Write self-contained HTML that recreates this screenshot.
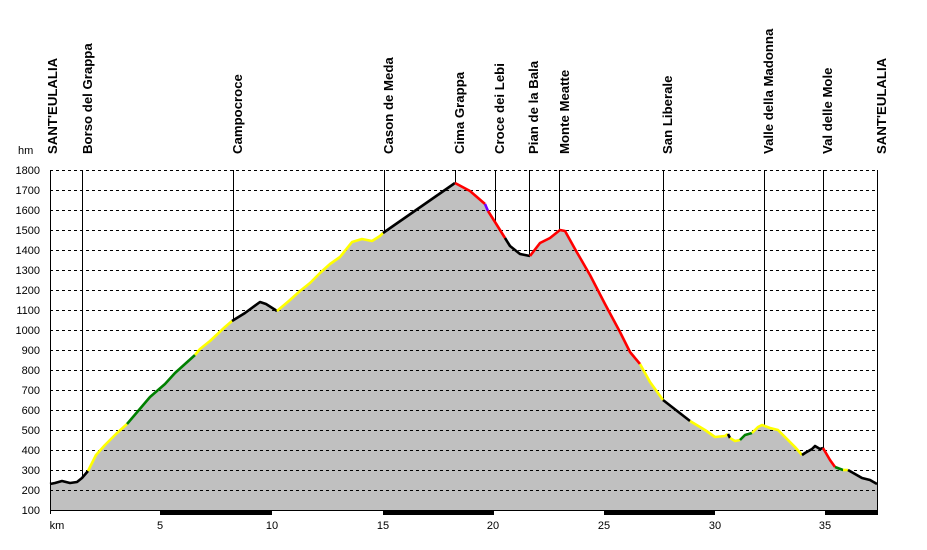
<!DOCTYPE html>
<html><head><meta charset="utf-8"><style>body{margin:0;background:#fff}svg{display:block}</style></head><body>
<svg width="927" height="550" xmlns="http://www.w3.org/2000/svg" font-family="Liberation Sans, Arial, sans-serif">
<polygon fill="#c0c0c0" points="50,484 55,483 62,481 70,483 77,482 82,478 88,471 96,455 105,445 116,434 127,424 150,397 165,384 175,373 195,355 200,349 210,341 225,327 232,321 245,313 260,302 266,304 277,311 290,300 300,291 310,283 320,273 330,264 340,257 352,242 362,239 372,241 380,236 383,233 455,183 470,191 485,204 488,211 495,222 505,238 510,246 520,254 530,256 540,243 550,238 560,230 565,231 575,249 590,275 605,304 620,332 630,352 640,364 650,382 663,400 690,421 705,430 715,437 725,436 728,434 730,438 735,441 740,440 745,435 752,433 758,427 762,425 770,428 778,430 785,437 795,447 802,455 805,453 812,449 815,446 820,449 823,448 830,460 835,467 843,470 848,470 855,474 862,478 870,480 877,484 877,510 50,510"/>
<g stroke="#000" stroke-dasharray="3,3" stroke-width="1">
<line x1="50" x2="877" y1="170.5" y2="170.5"/><line x1="50" x2="877" y1="190.5" y2="190.5"/><line x1="50" x2="877" y1="210.5" y2="210.5"/><line x1="50" x2="877" y1="230.5" y2="230.5"/><line x1="50" x2="877" y1="250.5" y2="250.5"/><line x1="50" x2="877" y1="270.5" y2="270.5"/><line x1="50" x2="877" y1="290.5" y2="290.5"/><line x1="50" x2="877" y1="310.5" y2="310.5"/><line x1="50" x2="877" y1="330.5" y2="330.5"/><line x1="50" x2="877" y1="350.5" y2="350.5"/><line x1="50" x2="877" y1="370.5" y2="370.5"/><line x1="50" x2="877" y1="390.5" y2="390.5"/><line x1="50" x2="877" y1="410.5" y2="410.5"/><line x1="50" x2="877" y1="430.5" y2="430.5"/><line x1="50" x2="877" y1="450.5" y2="450.5"/><line x1="50" x2="877" y1="470.5" y2="470.5"/><line x1="50" x2="877" y1="490.5" y2="490.5"/>
</g>
<g stroke="#000" stroke-width="1">
<line x1="50.5" y1="170" x2="50.5" y2="514"/><line x1="877.5" y1="170" x2="877.5" y2="514"/>
<line x1="82.5" y1="170" x2="82.5" y2="478"/><line x1="233.5" y1="170" x2="233.5" y2="321"/><line x1="384.5" y1="170" x2="384.5" y2="233"/><line x1="455.5" y1="170" x2="455.5" y2="183"/><line x1="495.5" y1="170" x2="495.5" y2="222"/><line x1="529.5" y1="170" x2="529.5" y2="256"/><line x1="559.5" y1="170" x2="559.5" y2="230"/><line x1="663.5" y1="170" x2="663.5" y2="400"/><line x1="764.5" y1="170" x2="764.5" y2="427"/><line x1="823.5" y1="170" x2="823.5" y2="448"/>
<line x1="50" y1="510.5" x2="877" y2="510.5"/>
</g>
<rect x="160" y="510" width="112" height="5" fill="#000"/><rect x="383" y="510" width="111" height="5" fill="#000"/><rect x="604" y="510" width="111" height="5" fill="#000"/><rect x="825" y="510" width="53" height="5" fill="#000"/>
<g fill="none" stroke-width="2.6" stroke-linejoin="round">
<polyline stroke="#000" points="50,484 55,483 62,481 70,483 77,482 82,478 88,471"/>
<polyline stroke="#ffff00" points="88,471 96,455 105,445 116,434 127,424"/>
<polyline stroke="#008000" points="127,424 150,397 165,384 175,373 195,355"/>
<polyline stroke="#ffff00" points="195,355 200,349 210,341 225,327 232,321"/>
<polyline stroke="#000" points="232,321 245,313 260,302 266,304 277,311"/>
<polyline stroke="#ffff00" points="277,311 290,300 300,291 310,283 320,273 330,264 340,257 352,242 362,239 372,241 380,236 383,233"/>
<polyline stroke="#000" points="383,233 455,183"/>
<polyline stroke="#ff0000" points="455,183 470,191 485,204"/>
<polyline stroke="#7000ff" points="485,204 488,211"/>
<polyline stroke="#ff0000" points="488,211 495,222 505,238"/>
<polyline stroke="#000" points="505,238 510,246 520,254 530,256"/>
<polyline stroke="#ff0000" points="530,256 540,243 550,238 560,230 565,231 575,249 590,275 605,304 620,332 630,352 640,364"/>
<polyline stroke="#ffff00" points="640,364 650,382 663,400"/>
<polyline stroke="#000" points="663,400 690,421"/>
<polyline stroke="#ffff00" points="690,421 705,430 715,437 725,436 728,434"/>
<polyline stroke="#000" points="728,434 730,438"/>
<polyline stroke="#ffff00" points="730,438 735,441 740,440"/>
<polyline stroke="#008000" points="740,440 745,435 752,433"/>
<polyline stroke="#ffff00" points="752,433 758,427 762,425 770,428 778,430 785,437 795,447 802,455"/>
<polyline stroke="#000" points="802,455 805,453 812,449 815,446 820,449 823,448"/>
<polyline stroke="#ff0000" points="823,448 830,460 835,467"/>
<polyline stroke="#008000" points="835,467 843,470"/>
<polyline stroke="#ffff00" points="843,470 848,470"/>
<polyline stroke="#000" points="848,470 855,474 862,478 870,480 877,484"/>
</g>
<g font-size="11" text-anchor="end" fill="#000">
<text x="40" y="174">1800</text><text x="40" y="194">1700</text><text x="40" y="214">1600</text><text x="40" y="234">1500</text><text x="40" y="254">1400</text><text x="40" y="274">1300</text><text x="40" y="294">1200</text><text x="40" y="314">1100</text><text x="40" y="334">1000</text><text x="40" y="354">900</text><text x="40" y="374">800</text><text x="40" y="394">700</text><text x="40" y="414">600</text><text x="40" y="434">500</text><text x="40" y="454">400</text><text x="40" y="474">300</text><text x="40" y="494">200</text><text x="40" y="514">100</text>
</g>
<text x="18" y="154" font-size="11">hm</text>
<g font-size="11" text-anchor="middle">
<text x="57" y="529">km</text><text x="160" y="529">5</text><text x="272" y="529">10</text><text x="383" y="529">15</text><text x="493" y="529">20</text><text x="604" y="529">25</text><text x="715" y="529">30</text><text x="825" y="529">35</text>
</g>
<g font-size="13.2" font-weight="bold">
<text transform="translate(57,154) rotate(-90)">SANT'EULALIA</text>
<text transform="translate(92,154) rotate(-90)">Borso del Grappa</text>
<text transform="translate(242,154) rotate(-90)">Campocroce</text>
<text transform="translate(393,154) rotate(-90)">Cason de Meda</text>
<text transform="translate(464,154) rotate(-90)">Cima Grappa</text>
<text transform="translate(504,154) rotate(-90)">Croce dei Lebi</text>
<text transform="translate(538,154) rotate(-90)">Pian de la Bala</text>
<text transform="translate(569,154) rotate(-90)">Monte Meatte</text>
<text transform="translate(672,154) rotate(-90)">San Liberale</text>
<text transform="translate(773,154) rotate(-90)">Valle della Madonna</text>
<text transform="translate(832,154) rotate(-90)">Val delle Mole</text>
<text transform="translate(886,154) rotate(-90)">SANT'EULALIA</text>
</g>
</svg>
</body></html>
